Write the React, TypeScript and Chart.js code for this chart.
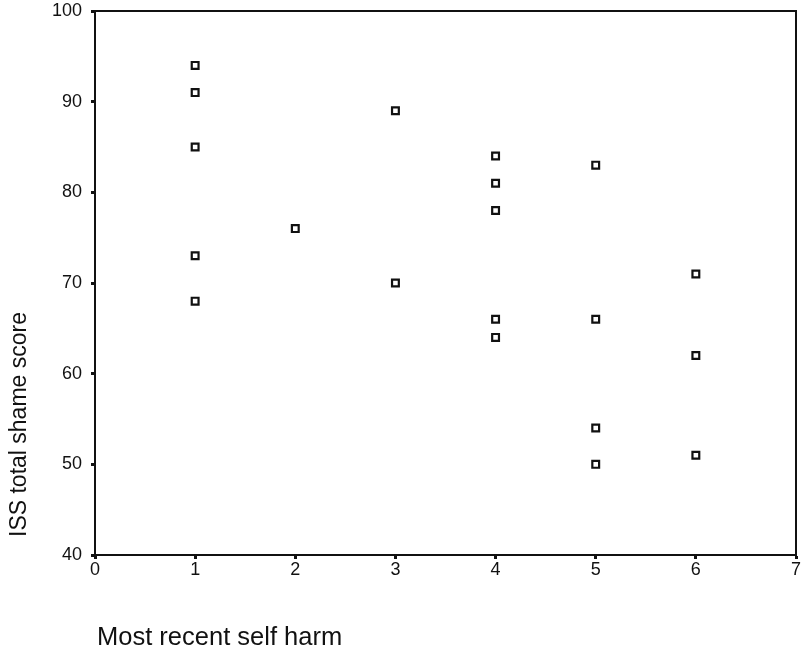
import React, { useEffect, useRef } from "react";
import { Chart, registerables } from "chart.js";

Chart.register(...registerables);

// Most recent self harm (category code) vs ISS total shame score
const harmCodes: number[] = [1, 1, 1, 1, 1, 2, 3, 3, 4, 4, 4, 4, 4, 5, 5, 5, 5, 6, 6, 6];
const shameScores: number[] = [94, 91, 85, 73, 68, 76, 89, 70, 84, 81, 78, 66, 64, 83, 66, 54, 50, 71, 62, 51];

const xTitle = "Most recent self harm";
const yTitle = "ISS total shame score";
const xRange = [0, 7];
const yRange = [40, 100];

const FONT = "'Liberation Sans', Arial, Helvetica, sans-serif";

// Frame around the plot area plus the two axis titles
const framePlugin = {
  id: "frameAndTitles",
  afterDraw(chart: any) {
    const { ctx, chartArea } = chart;
    ctx.save();
    ctx.strokeStyle = "#111";
    ctx.lineWidth = 2;
    ctx.strokeRect(chartArea.left, chartArea.top, chartArea.right - chartArea.left, chartArea.bottom - chartArea.top);

    ctx.fillStyle = "#111";
    ctx.font = `25.5px ${FONT}`;
    ctx.textAlign = "left";
    ctx.textBaseline = "alphabetic";
    ctx.fillText(xTitle, chartArea.left + 2, 645);

    ctx.font = `23px ${FONT}`;
    ctx.translate(26, chartArea.bottom - 18);
    ctx.rotate(-Math.PI / 2);
    ctx.textAlign = "left";
    ctx.fillText(yTitle, 0, 0);
    ctx.restore();
  },
};

export default function App() {
  const canvasRef = useRef<HTMLCanvasElement | null>(null);

  useEffect(() => {
    if (!canvasRef.current) return;
    const points = harmCodes.map((x, i) => ({ x, y: shameScores[i] }));
    const chart = new Chart(canvasRef.current, {
      type: "scatter",
      data: {
        datasets: [
          {
            data: points,
            pointStyle: "rect",
            pointRadius: 4.8,
            pointBorderWidth: 2.2,
            pointBorderColor: "#111",
            pointBackgroundColor: "#fff",
          },
        ],
      },
      options: {
        animation: false,
        responsive: false,
        devicePixelRatio: 1,
        layout: { padding: { left: 0, top: 0, right: 7, bottom: 0 } },
        plugins: {
          legend: { display: false },
          tooltip: { enabled: false },
        },
        scales: {
          x: {
            type: "linear",
            min: xRange[0],
            max: xRange[1],
            ticks: {
              stepSize: 1,
              color: "#111",
              font: { family: FONT, size: 18 },
              padding: 0,
            },
            grid: {
              drawOnChartArea: false,
              drawTicks: true,
              tickLength: 4,
              tickWidth: 3,
              color: "#111",
            },
            border: { display: true, color: "#111", width: 2 },
            afterFit: (scale: any) => {
              scale.height = 98;
            },
          },
          y: {
            type: "linear",
            min: yRange[0],
            max: yRange[1],
            ticks: {
              stepSize: 10,
              color: "#111",
              font: { family: FONT, size: 18 },
              padding: 9,
            },
            grid: {
              drawOnChartArea: false,
              drawTicks: true,
              tickLength: 4,
              tickWidth: 3,
              color: "#111",
            },
            border: { display: true, color: "#111", width: 2 },
            afterFit: (scale: any) => {
              scale.width = 95;
              scale.paddingTop = 11;
            },
          },
        },
      },
      plugins: [framePlugin],
    });
    return () => chart.destroy();
  }, []);

  return (
    <div style={{ position: "fixed", left: 0, top: 0, width: 803, height: 653, background: "#fff" }}>
      <canvas ref={canvasRef} width={803} height={653} style={{ display: "block" }} />
    </div>
  );
}
